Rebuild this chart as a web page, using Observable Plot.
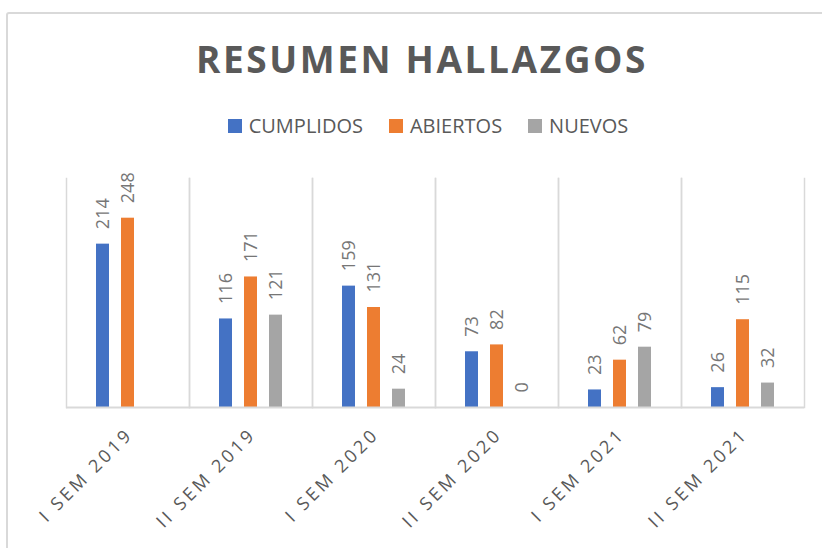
<!DOCTYPE html>
<html>
<head>
<meta charset="utf-8">
<script src="https://cdn.jsdelivr.net/npm/d3@7"></script>
<script src="https://cdn.jsdelivr.net/npm/@observablehq/plot@0.6"></script>
<style>
  html, body { margin: 0; padding: 0; width: 822px; height: 548px; overflow: hidden; background: #fff; }
  #box { position: absolute; left: 6px; top: 12px; width: 840px; height: 560px; border: 2px solid #d9d9d9; border-radius: 3px; box-sizing: border-box; }
  #title { position: absolute; left: 0; width: 844px; top: 31px; text-align: center; font-family: "Open Sans", sans-serif; font-weight: 700; font-size: 37px; line-height: 56px; letter-spacing: 2.6px; color: #595959; }
  #legend { position: absolute; left: 0; width: 856px; top: 112px; display: flex; justify-content: center; gap: 26px; font-family: "Open Sans", sans-serif; font-size: 20px; line-height: 28px; color: #595959; }
  #legend span.item { display: flex; align-items: center; }
  #legend span.sw { display: inline-block; width: 14px; height: 14px; margin-right: 7px; }
  #chart { position: absolute; left: 0; top: 0; }
</style>
</head>
<body>
<div id="box"></div>
<div id="title">RESUMEN HALLAZGOS</div>
<div id="legend"></div>
<div id="chart"></div>
<script>
const categories = ["I SEM 2019", "II SEM 2019", "I SEM 2020", "II SEM 2020", "I SEM 2021", "II SEM 2021"];
const series = ["CUMPLIDOS", "ABIERTOS", "NUEVOS"];
const colors = ["#4472C4", "#ED7D31", "#A5A5A5"];
const cumplidos = [214, 116, 159, 73, 23, 26];
const abiertos = [248, 171, 131, 82, 62, 115];
const nuevos = [null, 121, 24, 0, 79, 32];

const valuesBySeries = [cumplidos, abiertos, nuevos];
const rows = [];
categories.forEach((c, i) => {
  series.forEach((s, j) => {
    const v = valuesBySeries[j][i];
    if (v !== null) rows.push({category: c, series: s, value: v});
  });
});

// legend
const legend = document.getElementById("legend");
series.forEach((s, j) => {
  const item = document.createElement("span");
  item.className = "item";
  item.innerHTML = `<span class="sw" style="background:${colors[j]}"></span>${s}`;
  legend.appendChild(item);
});

const chart = Plot.plot({
  width: 822,
  height: 548,
  marginTop: 178,
  marginBottom: 141,
  marginLeft: 63,
  marginRight: 16,
  style: {fontFamily: "Open Sans, sans-serif", background: "transparent"},
  fx: {domain: categories, paddingInner: 0, paddingOuter: 0},
  x: {domain: series, paddingInner: 0.49, paddingOuter: 1.176, axis: null},
  y: {domain: [0, 300], axis: null},
  color: {domain: series, range: colors},
  marks: [
    Plot.frame({anchor: "left", stroke: "#d9d9d9", strokeWidth: 1.5}),
    Plot.frame({anchor: "right", stroke: "#d9d9d9", strokeWidth: 1.5}),
    Plot.barY(rows, {fx: "category", x: "series", y: "value", fill: "series"}),
    Plot.ruleY([0], {stroke: "#d9d9d9", strokeWidth: 2}),
    Plot.text(rows, {fx: "category", x: "series", y: "value", text: d => String(d.value), rotate: -90, textAnchor: "start", dy: -15, fontSize: 18, fill: "#767676"}),
    Plot.axisFx({anchor: "bottom", label: null, tickSize: 0, tickPadding: 24, tickRotate: -45, fontSize: 18, fill: "#595959", dx: 2})
  ]
});
d3.select(chart).selectAll('g[aria-label^="fx-axis"] text').attr("letter-spacing", "3.2px");
document.getElementById("chart").appendChild(chart);
</script>
</body>
</html>
